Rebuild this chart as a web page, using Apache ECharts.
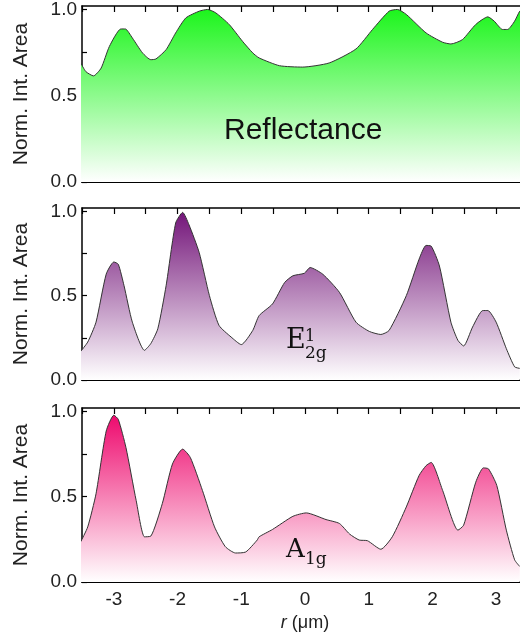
<!DOCTYPE html>
<html>
<head>
<meta charset="utf-8">
<script src="https://cdn.jsdelivr.net/npm/echarts@6/dist/echarts.min.js"></script>
<style>
  html, body { margin: 0; padding: 0; background: #fff; }
  #chart { width: 520px; height: 639px; }
</style>
</head>
<body>
<div id="chart"></div>
<script>
// Position along the line scan (µm) and normalized integrated area per signal
const reflX = [-3.52, -3.44, -3.32, -3.20, -3.07, -2.89, -2.82, -2.71, -2.55, -2.42, -2.34, -2.18, -2.03, -1.87, -1.66, -1.53, -1.40, -1.19, -0.98, -0.82, -0.72, -0.40, -0.04, 0.38, 0.80, 1.06, 1.32, 1.45, 1.59, 1.90, 2.16, 2.29, 2.47, 2.68, 2.87, 2.97, 3.10, 3.18, 3.29, 3.37, 3.42];
const reflY = [0.69, 0.64, 0.615, 0.66, 0.786, 0.887, 0.887, 0.835, 0.748, 0.709, 0.713, 0.767, 0.864, 0.951, 0.99, 1.0, 0.98, 0.913, 0.815, 0.748, 0.719, 0.674, 0.666, 0.69, 0.771, 0.884, 0.99, 1.0, 0.971, 0.864, 0.81, 0.80, 0.825, 0.913, 0.957, 0.932, 0.884, 0.884, 0.932, 0.99, 1.0];

const e2gX = [-3.52, -3.41, -3.28, -3.12, -3.00, -2.93, -2.84, -2.71, -2.52, -2.42, -2.31, -2.18, -2.03, -1.92, -1.82, -1.66, -1.50, -1.35, -1.16, -1.00, -0.82, -0.72, -0.51, -0.32, -0.19, -0.01, 0.08, 0.28, 0.54, 0.80, 1.01, 1.19, 1.32, 1.59, 1.79, 1.90, 1.98, 2.11, 2.29, 2.40, 2.49, 2.63, 2.79, 2.87, 3.00, 3.16, 3.29, 3.37];
const e2gY = [0.17, 0.225, 0.343, 0.628, 0.70, 0.686, 0.559, 0.343, 0.176, 0.216, 0.304, 0.559, 0.931, 0.994, 0.92, 0.755, 0.50, 0.324, 0.255, 0.21, 0.294, 0.382, 0.451, 0.578, 0.618, 0.633, 0.667, 0.627, 0.52, 0.343, 0.288, 0.27, 0.294, 0.50, 0.716, 0.798, 0.794, 0.676, 0.343, 0.235, 0.202, 0.314, 0.412, 0.412, 0.343, 0.186, 0.078, 0.069];

const a1gX = [-3.52, -3.41, -3.28, -3.12, -3.00, -2.93, -2.81, -2.65, -2.52, -2.42, -2.24, -2.08, -1.92, -1.80, -1.61, -1.42, -1.25, -1.09, -0.93, -0.75, -0.72, -0.51, -0.19, 0.02, 0.33, 0.54, 0.70, 0.85, 0.98, 1.19, 1.37, 1.59, 1.79, 1.90, 1.98, 2.16, 2.40, 2.49, 2.68, 2.80, 2.88, 3.01, 3.16, 3.29, 3.37];
const a1gY = [0.236, 0.323, 0.517, 0.885, 0.978, 0.953, 0.788, 0.478, 0.265, 0.269, 0.459, 0.692, 0.779, 0.73, 0.537, 0.323, 0.207, 0.17, 0.176, 0.246, 0.265, 0.308, 0.385, 0.405, 0.366, 0.343, 0.281, 0.246, 0.242, 0.192, 0.265, 0.44, 0.624, 0.682, 0.701, 0.537, 0.304, 0.333, 0.585, 0.669, 0.663, 0.566, 0.304, 0.13, 0.091];

// Axis ticks and labels
const xLabelValues = [-3, -2, -1, 0, 1, 2, 3];
const xTickValues = [-3.5, -3, -2.5, -2, -1.5, -1, -0.5, 0, 0.5, 1, 1.5, 2, 2.5, 3, 3.5];
const yLabelValues = [0, 0.5, 1.0];
const yTickValues = [0, 0.25, 0.5, 0.75, 1.0];

const pairs = (xs, ys) => xs.map((x, i) => [x, ys[i]]);

const SANS = 'Liberation Sans, Arial, sans-serif';
const SERIF = 'DejaVu Serif, Liberation Serif, serif';

const panels = [
  { top: 6, height: 176, data: pairs(reflX, reflY), color: '#1cf51c' },
  { top: 208, height: 172, data: pairs(e2gX, e2gY), color: '#74167a' },
  { top: 408, height: 174, data: pairs(a1gX, a1gY), color: '#ee0a6e' }
];

const grid = [], xAxis = [], yAxis = [], series = [];
panels.forEach((p, i) => {
  const last = i === panels.length - 1;
  // the plot runs past the right edge of the canvas
  grid.push({ left: 82, width: 446, top: p.top, height: p.height, show: false, outerBoundsMode: 'none', containLabel: false });
  // bottom axis carrying the data
  xAxis.push({
    type: 'value', gridIndex: i, min: -3.5, max: 3.5, position: 'bottom',
    axisLine: { show: true, onZero: false, lineStyle: { color: '#000', width: 2 } },
    axisTick: { show: true, inside: true, length: 6, customValues: xTickValues, lineStyle: { color: '#000', width: 1.2 } },
    axisLabel: { show: last, customValues: xLabelValues, margin: 8, color: '#222', fontSize: 19, fontFamily: SANS,
      formatter: v => (v < 0 ? '-' + Math.abs(v) : String(v)) },
    splitLine: { show: false },
    name: last ? '{i|r} (\u03bcm)' : '', nameLocation: 'middle', nameGap: 32,
    nameTextStyle: { color: '#222', fontSize: 18, fontFamily: SANS, rich: { i: { fontStyle: 'italic', fontSize: 18, fontFamily: SANS, color: '#222' } } }
  });
  // mirrored top frame axis
  xAxis.push({
    type: 'value', gridIndex: i, min: -3.5, max: 3.5, position: 'top',
    axisLine: { show: true, onZero: false, lineStyle: { color: '#000', width: 1.5 } },
    axisTick: { show: true, inside: true, length: 6, customValues: xTickValues, lineStyle: { color: '#000', width: 1.2 } },
    axisLabel: { show: false }, splitLine: { show: false }
  });
  yAxis.push({
    type: 'value', gridIndex: i, min: 0, max: 1.02,
    axisLine: { show: true, onZero: false, lineStyle: { color: '#000', width: 1.5 } },
    axisTick: { show: true, inside: true, length: 5, customValues: yTickValues, lineStyle: { color: '#000', width: 1.2 } },
    axisLabel: { customValues: yLabelValues, margin: 5, color: '#222', fontSize: 19, fontFamily: SANS, formatter: v => v.toFixed(1) },
    splitLine: { show: false },
    name: 'Norm. Int. Area', nameLocation: 'middle', nameGap: 50, nameRotate: 90,
    nameTextStyle: { color: '#222', fontSize: 21, fontFamily: SANS }
  });
  series.push({
    type: 'line', xAxisIndex: i * 2, yAxisIndex: i, data: p.data,
    showSymbol: false, smooth: 0.2, clip: true,
    lineStyle: { color: '#333', width: 1 },
    areaStyle: {
      origin: 'start', opacity: 1,
      color: new echarts.graphic.LinearGradient(0, 0, 0, 1, [
        { offset: 0, color: p.color },
        { offset: 1, color: '#ffffff' }
      ])
    }
  });
});

const chart = echarts.init(document.getElementById('chart'), null, { renderer: 'canvas' });
const label = (left, top, text, size, family) =>
  ({ type: 'text', left, top, z: 100, style: { text, fontSize: size, fontFamily: family, fill: '#111' } });
chart.setOption({
  animation: false,
  backgroundColor: '#fff',
  grid, xAxis, yAxis, series,
  graphic: [
    label(224, 116, 'Reflectance', 30, SANS),
    label(286, 327, 'E', 27, SERIF),
    label(305, 329, '1', 16, SERIF),
    label(305, 345, '2g', 17, SERIF),
    label(286, 537, 'A', 26, SERIF),
    label(305, 551, '1g', 17, SERIF)
  ]
});
</script>
</body>
</html>
